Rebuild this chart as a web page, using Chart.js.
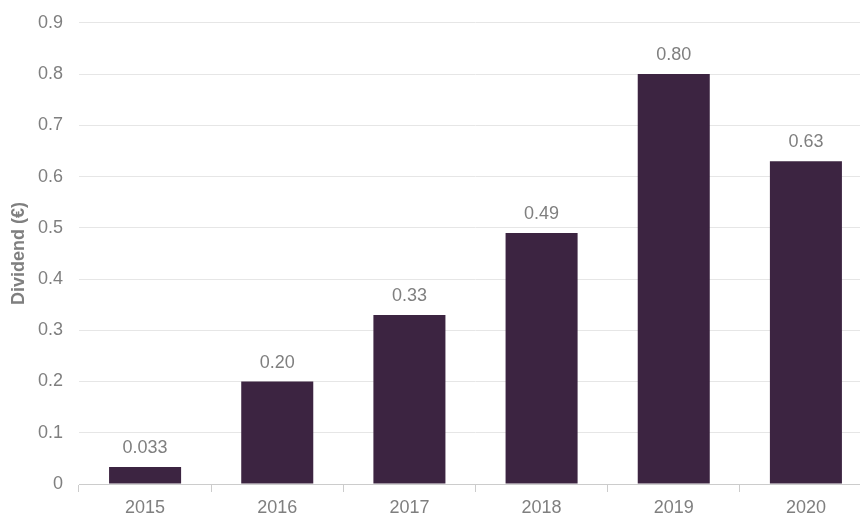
<!DOCTYPE html>
<html>
<head>
<meta charset="utf-8">
<script src="https://cdn.jsdelivr.net/npm/chart.js@4/dist/chart.umd.min.js"></script>
<style>
  html, body { margin:0; padding:0; background:#fff; overflow:hidden; width:860px; height:514px; }
  #wrap { position:absolute; left:0; top:-4px; width:872px; height:518px; }
</style>
</head>
<body>
<div id="wrap"><canvas id="chart" width="872" height="518"></canvas></div>
<script>
  // data
  const years     = ['2015','2016','2017','2018','2019','2020'];
  const dividends = [0.033, 0.20, 0.33, 0.49, 0.80, 0.63];
  const valueText = ['0.033','0.20','0.33','0.49','0.80','0.63'];

  const grey = '#7f7f7f';
  const font = {family:'"Liberation Sans", Arial, sans-serif', size:18};

  // labels above bars
  const barLabels = {
    id:'barLabels',
    afterDatasetsDraw(chart){
      const ctx = chart.ctx;
      const meta = chart.getDatasetMeta(0);
      ctx.save();
      ctx.fillStyle = grey;
      ctx.font = `${font.size}px ${font.family}`;
      ctx.textAlign = 'center';
      ctx.textBaseline = 'alphabetic';
      meta.data.forEach((bar,i)=>{
        ctx.fillText(valueText[i], bar.x, bar.y - 14);
      });
      ctx.restore();
    }
  };

  new Chart(document.getElementById('chart'), {
    type:'bar',
    data:{
      labels: years,
      datasets:[{ data: dividends, backgroundColor:'#3c2441', categoryPercentage:1, barPercentage:0.545 }]
    },
    options:{
      responsive:false,
      animation:false,
      devicePixelRatio:1,
      layout:{ padding:{ top:7, left:0, right:0, bottom:0 } },
      plugins:{ legend:{display:false}, tooltip:{enabled:false} },
      scales:{
        x:{
          grid:{ drawOnChartArea:false, drawTicks:true, tickLength:8, color:'#cccccc', offset:true },
          border:{ color:'#cccccc', width:1 },
          ticks:{ color:grey, font, padding:5 },
          afterFit:(s)=>{ s.height = 30; }
        },
        y:{
          min:0, max:0.9,
          ticks:{ stepSize:0.1, color:grey, font, padding:16,
            callback:(v)=> v===0 ? '0' : (+v).toFixed(1) },
          grid:{ color:'#e6e6e6', drawTicks:false },
          border:{ display:false },
          title:{ display:true, text:'Dividend (€)', color:grey,
            font:{family:font.family, size:18, weight:'bold'}, padding:{top:8,bottom:0} },
          afterFit:(s)=>{ s.width = 79; }
        }
      }
    },
    plugins:[barLabels]
  });
</script>
</body>
</html>
